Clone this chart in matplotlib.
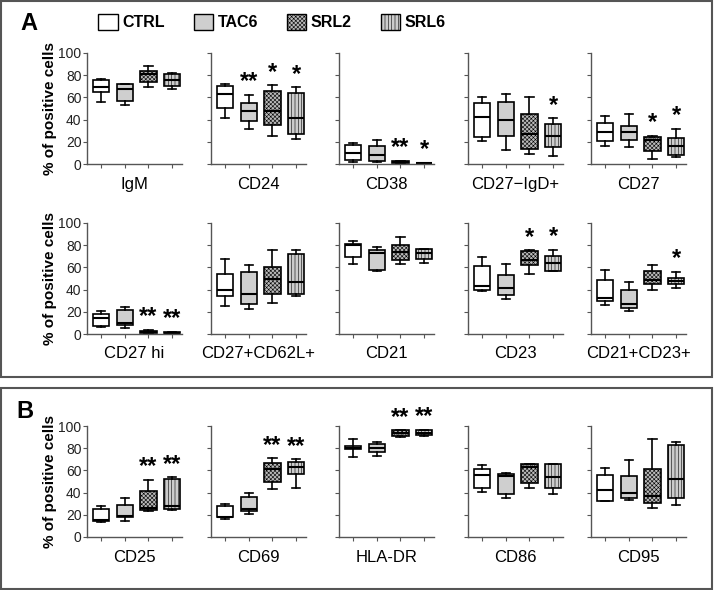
import matplotlib.pyplot as plt
from matplotlib.patches import Patch, Rectangle

plt.rcParams['font.family'] = ['Liberation Sans', 'DejaVu Sans']
plt.rcParams['hatch.linewidth'] = 0.4

## DATOS (min, q1, mediana, q3, max) por grupo CTRL, TAC6, SRL2, SRL6

grupos = ["CTRL", "TAC6", "SRL2", "SRL6"]

igm = [[56, 65, 69, 76, 77], [53, 57, 68, 72, 72.5], [69.5, 73.6, 81.4, 83.5, 88.6], [67.7, 70.7, 75.4, 81.4, 82]]
cd24 = [[41, 50.3, 63.5, 70, 72], [31.7, 38.3, 47.6, 55, 62], [24.9, 35, 48, 66, 71], [22.5, 27, 41, 64.4, 69]]
cd38 = [[1.5, 3.6, 9.6, 17.5, 19], [2, 3, 8, 16, 21.5], [0.6, 1.2, 1.8, 2.7, 3], [0.3, 0.5, 0.8, 1, 1.2]]
cd27_igd = [[21, 24.5, 42, 55, 60], [12.5, 25, 39.4, 56, 62.7], [9, 13.7, 27, 45.4, 60.3], [7.5, 15.5, 25, 36, 41]]
cd27 = [[16.4, 20.3, 29, 36.7, 43.6], [15.5, 22, 29, 34.6, 44.8], [4.8, 12, 21.5, 24, 25.4], [6, 8.4, 16.4, 23.6, 31.6]]

cd27hi = [[6, 6.9, 14.6, 18, 21], [5.4, 7.8, 10, 21.2, 23.9], [0.5, 1, 2, 3, 3.5], [0.3, 0.6, 1, 1.5, 1.7]]
cd27_62l = [[25.4, 34, 40, 54, 68], [22.4, 26.6, 36, 56, 62], [27.8, 36, 50, 60, 76], [34, 36, 47, 72.5, 76]]
cd21 = [[63.5, 69, 80, 81.5, 84], [57, 58, 73, 76, 78], [63, 67, 74, 80, 87], [64, 68, 73.4, 77, 77]]
cd23 = [[39, 40, 43, 61, 69.5], [31.3, 35, 41.5, 53.4, 62.7], [54, 62, 67, 75, 75.5], [56.4, 57, 64, 70, 76]]
cd21_23 = [[26.3, 30, 32, 48.7, 57.6], [20.3, 23.3, 26.6, 40, 47], [39.4, 44.8, 49, 56.7, 62], [41.5, 44.8, 48, 50.7, 56]]

cd25 = [[13.5, 14, 15.5, 25, 28], [14.7, 18.3, 19, 28.5, 35], [23.7, 24.3, 26, 41.7, 51.6], [24.3, 25, 28, 52.5, 53.7]]
cd69 = [[16, 17.7, 18.3, 28, 30], [20.7, 23.7, 25.5, 36.3, 40], [43.5, 50, 61, 67, 71], [43.8, 56.8, 63.4, 68, 70]]
hla_dr = [[72.4, 79, 80, 81.7, 88], [73.4, 77, 80, 83.8, 85.6], [90, 91, 94, 96, 96], [91, 91.6, 94, 96, 96.5]]
cd86 = [[40.8, 43.8, 55.9, 61, 65], [35, 38.7, 55, 57, 58], [43.8, 49, 62.8, 66, 66], [38.4, 43.8, 53.8, 66, 66]]
cd95 = [[32.7, 32.7, 42.3, 56, 62], [33, 35, 40, 55.3, 69.7], [26.4, 30.6, 37, 61.3, 88.3], [28.5, 35, 52.5, 83, 85.3]]

## PANELES: (datos, etiqueta, asteriscos, fila, columna)

paneles = [
    (igm, "IgM", ["", "", "", ""], 0, 0),
    (cd24, "CD24", ["", "**", "*", "*"], 0, 1),
    (cd38, "CD38", ["", "", "**", "*"], 0, 2),
    (cd27_igd, "CD27\u2212IgD+", ["", "", "", "*"], 0, 3),
    (cd27, "CD27", ["", "", "*", "*"], 0, 4),
    (cd27hi, "CD27 hi", ["", "", "**", "**"], 1, 0),
    (cd27_62l, "CD27+CD62L+", ["", "", "", ""], 1, 1),
    (cd21, "CD21", ["", "", "", ""], 1, 2),
    (cd23, "CD23", ["", "", "*", "*"], 1, 3),
    (cd21_23, "CD21+CD23+", ["", "", "", "*"], 1, 4),
    (cd25, "CD25", ["", "", "**", "**"], 2, 0),
    (cd69, "CD69", ["", "", "**", "**"], 2, 1),
    (hla_dr, "HLA-DR", ["", "", "**", "**"], 2, 2),
    (cd86, "CD86", ["", "", "", ""], 2, 3),
    (cd95, "CD95", ["", "", "", ""], 2, 4),
]

## ESTILO DE CAJAS

colores = ["white", "#cfcfcf", "#bababa", "#cccccc"]
tramas = [None, None, "xxxxxxxx", "|||||"]

W, H = 723, 590
fig = plt.figure(figsize=(W / 100, H / 100), dpi=100)

col_x = [87, 211, 339, 468, 591]
fila_top = [53, 223, 426]
ancho, alto = 95, 111

for datos, etiqueta, estrellas, fila, col in paneles:
    x0 = col_x[col]
    y0 = fila_top[fila]
    ax = fig.add_axes([x0 / W, 1 - (y0 + alto) / H, ancho / W, alto / H])
    stats = []
    for g, d in zip(grupos, datos):
        stats.append(dict(label=g, whislo=d[0], q1=d[1], med=d[2], q3=d[3], whishi=d[4], fliers=[]))
    bp = ax.bxp(stats, positions=[1, 2, 3, 4], widths=0.7, patch_artist=True, showfliers=False,
                boxprops=dict(linewidth=1.2, edgecolor="black"),
                medianprops=dict(color="black", linewidth=1.5),
                whiskerprops=dict(color="black", linewidth=1.2),
                capprops=dict(color="black", linewidth=1.2), capwidths=0.35)
    for caja, c, h in zip(bp["boxes"], colores, tramas):
        caja.set_facecolor(c)
        if h:
            caja.set_hatch(h)
    for i, s in enumerate(estrellas):
        if s:
            ax.text(i + 1, datos[i][4] + 1.5, s, ha="center", va="bottom", fontsize=17,
                    fontweight="bold", clip_on=False)
    ax.set_xlim(0.4, 4.42)
    ax.set_ylim(0, 100)
    ax.set_yticks([0, 20, 40, 60, 80, 100])
    ax.set_xticks([1, 2, 3, 4])
    ax.set_xticklabels([])
    for lado in ["top", "right"]:
        ax.spines[lado].set_visible(False)
    for lado in ["left", "bottom"]:
        ax.spines[lado].set_color("#555555")
        ax.spines[lado].set_linewidth(1.0)
    ax.tick_params(axis="both", direction="out", length=3, width=0.8, color="#555555",
                   labelsize=10, labelcolor="#222222", pad=1)
    ax.set_xlabel(etiqueta, fontsize=12, labelpad=5)
    if col == 0:
        ax.set_ylabel("% of positive cells", fontsize=11, fontweight="bold", labelpad=1)
    else:
        ax.set_yticklabels([])

## MARCOS Y LETRAS

fig.add_artist(Rectangle((1 / W, 1 - 377 / H), 711 / W, 376 / H, transform=fig.transFigure,
                         fill=False, edgecolor="#555555", linewidth=1.5))
fig.add_artist(Rectangle((1 / W, 1 / H), 711 / W, 201 / H, transform=fig.transFigure,
                         fill=False, edgecolor="#555555", linewidth=1.5))
fig.text(20 / W, 1 - 23 / H, "A", fontsize=17, fontweight="bold", va="center")
fig.text(16 / W, 1 - 412 / H, "B", fontsize=17, fontweight="bold", va="center")

## LEYENDA

manejadores = [Patch(facecolor=c, edgecolor="black", hatch=h, linewidth=1.0, label=g)
               for g, c, h in zip(grupos, colores, tramas)]
fig.legend(handles=manejadores, loc="center left", bbox_to_anchor=(84 / W, 1 - 22 / H), ncol=4,
           frameon=False, handlelength=1.2, handleheight=1.2, handletextpad=0.3, columnspacing=1.8,
           prop=dict(weight="bold", size=11.5))

fig.savefig("out.png", dpi=100)
